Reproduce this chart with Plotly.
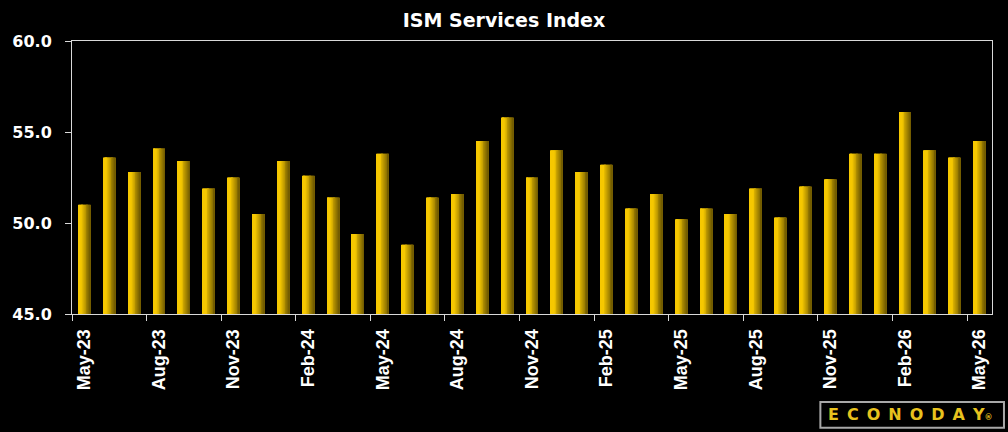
import plotly.graph_objects as go

# ---- data ----
months = ["May-23", "Jun-23", "Jul-23", "Aug-23", "Sep-23", "Oct-23", "Nov-23", "Dec-23",
          "Jan-24", "Feb-24", "Mar-24", "Apr-24", "May-24", "Jun-24", "Jul-24", "Aug-24",
          "Sep-24", "Oct-24", "Nov-24", "Dec-24", "Jan-25", "Feb-25", "Mar-25", "Apr-25",
          "May-25", "Jun-25", "Jul-25", "Aug-25", "Sep-25", "Oct-25", "Nov-25", "Dec-25",
          "Jan-26", "Feb-26", "Mar-26", "Apr-26", "May-26"]
ism_values = [51.0, 53.6, 52.8, 54.1, 53.4, 51.9, 52.5, 50.5,
              53.4, 52.6, 51.4, 49.4, 53.8, 48.8, 51.4, 51.6,
              54.5, 55.8, 52.5, 54.0, 52.8, 53.2, 50.8, 51.6,
              50.2, 50.8, 50.5, 51.9, 50.3, 52.0, 52.4, 53.8,
              53.8, 56.1, 54.0, 53.6, 54.5]
y_ticks = [45, 50, 55, 60]

# ---- gradient bars built from slices ----
BAR_W = 0.48
N_SLICES = 14
bright = (246, 200, 0)
dark = (110, 88, 0)


def slice_color(t):
    if t < 0.3:
        f = 0.0
    else:
        f = (t - 0.3) / 0.7
    r = bright[0] + (dark[0] - bright[0]) * f
    g = bright[1] + (dark[1] - bright[1]) * f
    b = bright[2] + (dark[2] - bright[2]) * f
    return f"rgb({int(r)},{int(g)},{int(b)})"


fig = go.Figure()
sw = BAR_W / N_SLICES
for i in range(N_SLICES):
    t = (i + 0.5) / N_SLICES
    fig.add_trace(go.Bar(
        x=months, y=ism_values,
        offset=-BAR_W / 2 + i * sw,
        width=sw * (1.25 if i < N_SLICES - 1 else 1.0),
        marker=dict(color=slice_color(t), line=dict(width=0)),
        showlegend=False, hoverinfo="skip" if i else "x+y",
    ))

fig.update_layout(
    width=1008, height=432,
    paper_bgcolor="black", plot_bgcolor="black",
    margin=dict(l=70, r=16, t=41, b=118),
    barmode="overlay",
    showlegend=False,
    title=dict(text="<b>ISM Services Index</b>", x=0.5, xanchor="center",
               y=0.953, yanchor="middle",
               font=dict(family="DejaVu Sans", size=19, color="white")),
    xaxis=dict(
        type="category", tickson="boundaries", dtick=3, tickangle=-90,
        showline=True, mirror=True, linecolor="#D9D9D9", linewidth=1,
        ticks="outside", ticklen=6, tickcolor="#D9D9D9", tickwidth=1,
        tickfont=dict(family="Liberation Sans", size=18, color="white", weight="bold"),
        ticklabelstandoff=7,
        showgrid=False, zeroline=False,
        range=[-0.5, len(months) - 0.5],
    ),
    yaxis=dict(
        range=[45, 60], tickvals=y_ticks, tickformat=".1f",
        showline=True, mirror=True, linecolor="#D9D9D9", linewidth=1,
        ticks="outside", ticklen=6, tickcolor="#D9D9D9", tickwidth=1,
        tickfont=dict(family="DejaVu Sans", size=16, color="white", weight="bold"),
        ticklabelstandoff=10,
        showgrid=False, zeroline=False,
    ),
)

# Econoday logo
fig.add_shape(type="rect", xref="paper", yref="paper",
              x0=(820 - 70) / 922, x1=(1004 - 70) / 922,
              y0=-(428 - 314) / 273.3, y1=-(402 - 314) / 273.3,
              line=dict(color="#A8A8A8", width=2), fillcolor="black")
fig.add_annotation(xref="paper", yref="paper",
                   x=(910 - 70) / 922, y=-(415 - 314) / 273.3,
                   text="E\u2002C\u2002O\u2002N\u2002O\u2002D\u2002A\u2002Y<span style='font-size:8px'>®</span>",
                   showarrow=False, xanchor="center", yanchor="middle",
                   font=dict(family="DejaVu Sans", size=16, color="#E8C21E", weight="bold"))

fig.write_html("out.html")
